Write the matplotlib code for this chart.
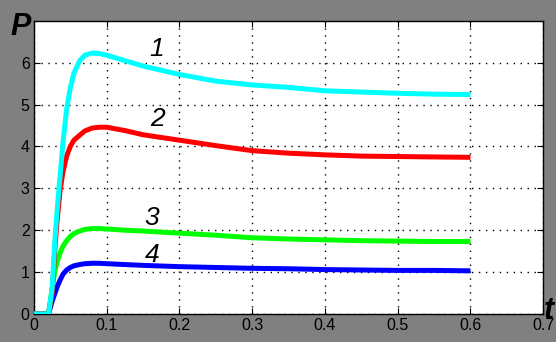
import matplotlib.pyplot as plt

# time grid and the four power curves
t = [0, 0.02, 0.025, 0.029, 0.032, 0.036, 0.04, 0.045, 0.05, 0.055, 0.063, 0.07,
     0.08, 0.09, 0.1, 0.125, 0.15, 0.2, 0.25, 0.3, 0.35, 0.4, 0.45, 0.5, 0.55, 0.6]
p1 = [0, 0, 0.6, 1.8, 2.5, 3.3, 4.1, 4.9, 5.4, 5.75, 6.05, 6.18,
      6.23, 6.22, 6.18, 6.05, 5.92, 5.72, 5.56, 5.47, 5.41, 5.33, 5.3, 5.27, 5.25, 5.24]
p2 = [0, 0, 0.5, 1.6, 2.25, 2.95, 3.4, 3.77, 4.0, 4.15, 4.27, 4.37,
      4.44, 4.46, 4.46, 4.38, 4.28, 4.15, 4.02, 3.9, 3.84, 3.8, 3.77, 3.76, 3.75, 3.74]
p3 = [0, 0, 0.6, 1.05, 1.25, 1.46, 1.62, 1.75, 1.85, 1.92, 1.98, 2.02,
      2.04, 2.04, 2.03, 2.0, 1.98, 1.93, 1.88, 1.82, 1.79, 1.77, 1.75, 1.74, 1.73, 1.73]
p4 = [0, 0, 0.3, 0.5, 0.65, 0.81, 0.95, 1.05, 1.11, 1.15, 1.18, 1.2,
      1.21, 1.21, 1.2, 1.18, 1.16, 1.13, 1.11, 1.09, 1.08, 1.06, 1.05, 1.04, 1.04, 1.03]

labels = ["1", "2", "3", "4"]
label_pos = [(0.169, 6.33), (0.17, 4.65), (0.162, 2.3), (0.162, 1.41)]
colors = ["#00ffff", "#ff0000", "#00ff00", "#0000ff"]

plt.rcParams["font.family"] = ["Liberation Sans", "DejaVu Sans"]

fig = plt.figure(figsize=(5.56, 3.42), dpi=100, facecolor="#808080")
ax = fig.add_axes([0.061, 0.082, 0.916, 0.857])
ax.set_facecolor("white")

for y, c in zip([p4, p3, p2, p1], colors[::-1]):
    ax.plot(t, y, color=c, lw=3.6, solid_capstyle="butt", zorder=3)

for lab, (x, y) in zip(labels, label_pos):
    ax.text(x, y, lab, fontsize=19, style="italic", ha="center", va="center", zorder=4)

ax.set_xlim(0, 0.7)
ax.set_ylim(0, 7)
ax.set_xticks([0, 0.1, 0.2, 0.3, 0.4, 0.5, 0.6, 0.7])
ax.set_xticklabels(["0", "0.1", "0.2", "0.3", "0.4", "0.5", "0.6", "0.7"])
ax.set_yticks([0, 1, 2, 3, 4, 5, 6])
ax.tick_params(direction="in", top=True, right=True, labelsize=11.5, length=4, pad=3)
ax.grid(True, color="black", linestyle=(0, (1, 4)), linewidth=1)
for s in ax.spines.values():
    s.set_linewidth(1)

fig.text(0.038, 0.92, "P", fontsize=22, fontweight="bold", style="italic",
         ha="center", va="center")
fig.text(0.987, 0.09, "t", fontsize=22, fontweight="bold", style="italic",
         ha="center", va="center")

fig.savefig("out.png", dpi=100, facecolor=fig.get_facecolor())
